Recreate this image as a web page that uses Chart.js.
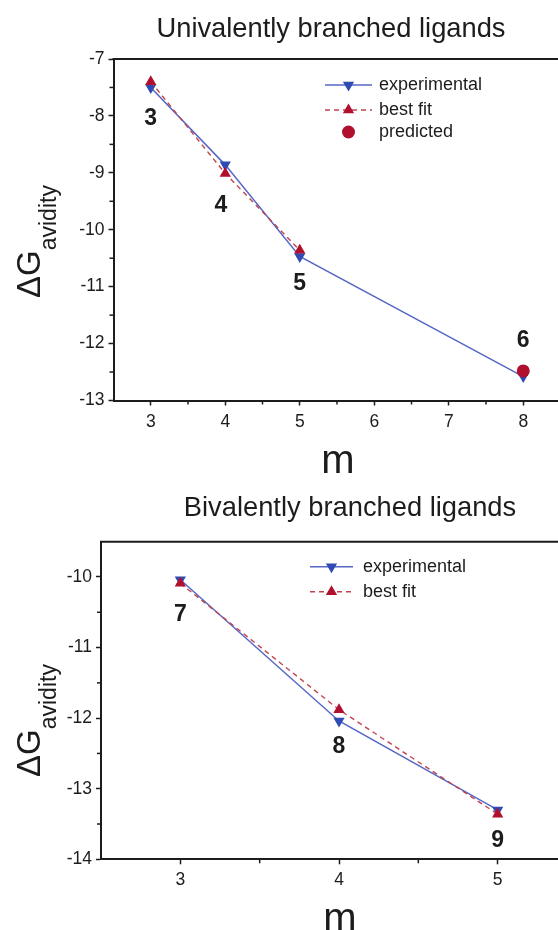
<!DOCTYPE html>
<html>
<head>
<meta charset="utf-8">
<script src="https://cdn.jsdelivr.net/npm/chart.js@4.4.0/dist/chart.umd.min.js"></script>
<style>
  html, body { margin: 0; padding: 0; background: #fff; overflow: hidden; }
  body { width: 558px; height: 930px; position: relative; }
  .panel { position: absolute; left: 0; }
</style>
</head>
<body>
<div class="panel" style="top:0"><canvas id="uni" width="600" height="480"></canvas></div>
<div class="panel" style="top:480px"><canvas id="bi" width="620" height="450"></canvas></div>
<script>
// Univalently branched ligands (top panel)
const uniExpM = [3, 4, 5, 8];
const uniExpG = [-7.5, -8.86, -10.47, -12.58];
const uniFitM = [3, 4, 5];
const uniFitG = [-7.4, -9.01, -10.36];
const uniPredM = [8];
const uniPredG = [-12.48];
const uniTicksM = [3, 4, 5, 6, 7, 8];
const uniTicksG = [-13, -12, -11, -10, -9, -8, -7];
const uniNames = ['3', '4', '5', '6'];
const uniNameM = [3, 3.94, 5, 8];
const uniNameG = [-8.04, -9.57, -10.94, -11.94];

// Bivalently branched ligands (bottom panel)
const biExpM = [3, 4, 5];
const biExpG = [-10.04, -12.04, -13.3];
const biFitM = [3, 4, 5];
const biFitG = [-10.09, -11.88, -13.36];
const biTicksM = [3, 4, 5];
const biTicksG = [-14, -13, -12, -11, -10];
const biNames = ['7', '8', '9'];
const biNameM = [3, 4, 5];
const biNameG = [-10.54, -12.4, -13.73];

const FONT = "'Liberation Sans', Arial, sans-serif";
const INK = '#1c1c1c';
const BLUE_LINE = '#5568c6';
const BLUE_MARK = '#2f4ab2';
const RED_LINE = '#c4424e';
const RED_MARK = '#b00f2e';

const pts = (xs, ys) => xs.map((x, i) => ({ x: x, y: ys[i] }));
// half-way ticks between the labelled ones
const halves = t => t.slice(1).map((v, i) => (v + t[i]) / 2);

function expSet(m, g) {
    return {
        label: 'experimental', data: pts(m, g), order: 2,
        borderColor: BLUE_LINE, borderWidth: 1.5,
        pointStyle: 'triangle', pointRotation: 180, pointRadius: 6.5,
        pointBackgroundColor: BLUE_MARK, pointBorderColor: BLUE_MARK, pointBorderWidth: 0
    };
}
function fitSet(m, g) {
    return {
        label: 'best fit', data: pts(m, g), order: 1,
        borderColor: RED_LINE, borderWidth: 1.4, borderDash: [5, 4],
        pointStyle: 'triangle', pointRotation: 0, pointRadius: 6.5,
        pointBackgroundColor: RED_MARK, pointBorderColor: RED_MARK, pointBorderWidth: 0
    };
}
function predSet(m, g) {
    return {
        label: 'predicted', data: pts(m, g), order: 0, showLine: false,
        borderColor: RED_MARK, pointStyle: 'circle', pointRadius: 6.5,
        pointBackgroundColor: RED_MARK, pointBorderColor: RED_MARK, pointBorderWidth: 0
    };
}

// Titles, legend, labels and minor ticks
const panelDecor = {
    id: 'panelDecor',
    afterDraw(chart, args, o) {
        const ctx = chart.ctx, a = chart.chartArea;
        const xs = chart.scales.x, ys = chart.scales.y;
        ctx.save();

        // top and right frame
        ctx.strokeStyle = INK;
        ctx.lineWidth = 2;
        ctx.beginPath();
        ctx.moveTo(a.left - 1, a.top);
        ctx.lineTo(a.right, a.top);
        ctx.lineTo(a.right, a.bottom);
        ctx.stroke();

        // minor ticks
        ctx.lineWidth = 1.5;
        halves(o.ticksM).forEach(v => {
            const px = xs.getPixelForValue(v);
            ctx.beginPath(); ctx.moveTo(px, a.bottom); ctx.lineTo(px, a.bottom + 4); ctx.stroke();
        });
        halves(o.ticksG).forEach(v => {
            const py = ys.getPixelForValue(v);
            ctx.beginPath(); ctx.moveTo(a.left, py); ctx.lineTo(a.left - 4, py); ctx.stroke();
        });

        // chart title
        ctx.fillStyle = INK;
        ctx.font = '27.3px ' + FONT;
        ctx.textAlign = 'center';
        ctx.textBaseline = 'alphabetic';
        ctx.fillText(o.title, o.titleX, o.titleY);

        // x axis title
        ctx.font = '40px ' + FONT;
        ctx.fillText('m', o.mX, o.mY);

        // y axis title with subscript
        ctx.save();
        ctx.translate(o.gX, o.gY);
        ctx.rotate(-Math.PI / 2);
        ctx.textAlign = 'left';
        ctx.font = '33px ' + FONT;
        ctx.fillText('\u0394G', 0, 0);
        const w = ctx.measureText('\u0394G').width;
        ctx.font = '23px ' + FONT;
        ctx.fillText('avidity', w, 16);
        ctx.restore();

        // compound numbers
        ctx.font = 'bold 23px ' + FONT;
        ctx.textAlign = 'center';
        ctx.textBaseline = 'middle';
        o.names.forEach((n, i) => {
            ctx.fillText(n, xs.getPixelForValue(o.nameM[i]), ys.getPixelForValue(o.nameG[i]));
        });

        // legend
        const L = o.legend;
        chart.data.datasets.forEach((ds, i) => {
            const y = L.rows[i];
            if (ds.showLine !== false) {
                ctx.strokeStyle = ds.borderColor;
                ctx.lineWidth = ds.borderWidth;
                ctx.setLineDash(ds.borderDash || []);
                ctx.beginPath(); ctx.moveTo(L.x0, y); ctx.lineTo(L.x1, y); ctx.stroke();
                ctx.setLineDash([]);
            }
            ctx.fillStyle = ds.pointBackgroundColor;
            ctx.strokeStyle = ds.pointBorderColor;
            Chart.helpers.drawPoint(ctx, {
                pointStyle: ds.pointStyle, rotation: ds.pointRotation || 0,
                radius: ds.pointRadius, borderWidth: 0
            }, (L.x0 + L.x1) / 2, y);
            ctx.fillStyle = INK;
            ctx.font = '18px ' + FONT;
            ctx.textAlign = 'left';
            ctx.fillText(ds.label, L.tx, y);
        });
        ctx.restore();
    }
};

function makePanel(id, datasets, box, ticksM, ticksG, decor) {
    const canvas = document.getElementById(id);
    const W = canvas.width, H = canvas.height;
    return new Chart(canvas, {
        type: 'line',
        data: { datasets: datasets },
        plugins: [panelDecor],
        options: {
            responsive: false,
            devicePixelRatio: 1,
            animation: false,
            events: [],
            layout: { padding: { left: 0, top: box.top, right: W - box.right, bottom: 0 } },
            elements: { line: { tension: 0 } },
            plugins: {
                legend: { display: false },
                tooltip: { enabled: false },
                panelDecor: Object.assign({ ticksM: ticksM, ticksG: ticksG }, decor)
            },
            scales: {
                x: {
                    type: 'linear',
                    min: box.xMin, max: box.xMax,
                    afterBuildTicks: s => { s.ticks = ticksM.map(v => ({ value: v })); },
                    afterFit: s => { s.height = H - box.bottom; },
                    grid: { drawOnChartArea: false, tickLength: 5, color: INK, tickWidth: 1.5 },
                    border: { color: INK, width: 2 },
                    ticks: {
                        autoSkip: false, maxRotation: 0, padding: box.xPad,
                        color: INK, font: { family: FONT, size: 17.5 }
                    }
                },
                y: {
                    type: 'linear',
                    min: box.yMin, max: box.yMax,
                    afterBuildTicks: s => { s.ticks = ticksG.map(v => ({ value: v })); },
                    afterFit: s => { s.width = box.left; },
                    grid: { drawOnChartArea: false, tickLength: 5, color: INK, tickWidth: 1.5 },
                    border: { color: INK, width: 2 },
                    ticks: {
                        autoSkip: false, padding: 4,
                        color: INK, font: { family: FONT, size: 17.5 }
                    }
                }
            }
        }
    });
}

makePanel('uni',
    [expSet(uniExpM, uniExpG), fitSet(uniFitM, uniFitG), predSet(uniPredM, uniPredG)],
    { left: 113.5, right: 560.5, top: 59, bottom: 400.5, xMin: 2.5, xMax: 8.5, yMin: -13, yMax: -7, xPad: 6.5 },
    uniTicksM, uniTicksG,
    {
        title: 'Univalently branched ligands', titleX: 331, titleY: 36.7,
        mX: 338, mY: 473, gX: 40, gY: 298,
        names: uniNames, nameM: uniNameM, nameG: uniNameG,
        legend: { x0: 325, x1: 372, tx: 379, rows: [85, 110, 132] }
    });

makePanel('bi',
    [expSet(biExpM, biExpG), fitSet(biFitM, biFitG)],
    { left: 101, right: 577, top: 61.7, bottom: 379.3, xMin: 2.5, xMax: 5.5, yMin: -14, yMax: -9.5, xPad: 5.5 },
    biTicksM, biTicksG,
    {
        title: 'Bivalently branched ligands', titleX: 350, titleY: 35.7,
        mX: 340, mY: 450.5, gX: 40, gY: 297,
        names: biNames, nameM: biNameM, nameG: biNameG,
        legend: { x0: 310, x1: 353, tx: 363, rows: [86.7, 111.7] }
    });
</script>
</body>
</html>
